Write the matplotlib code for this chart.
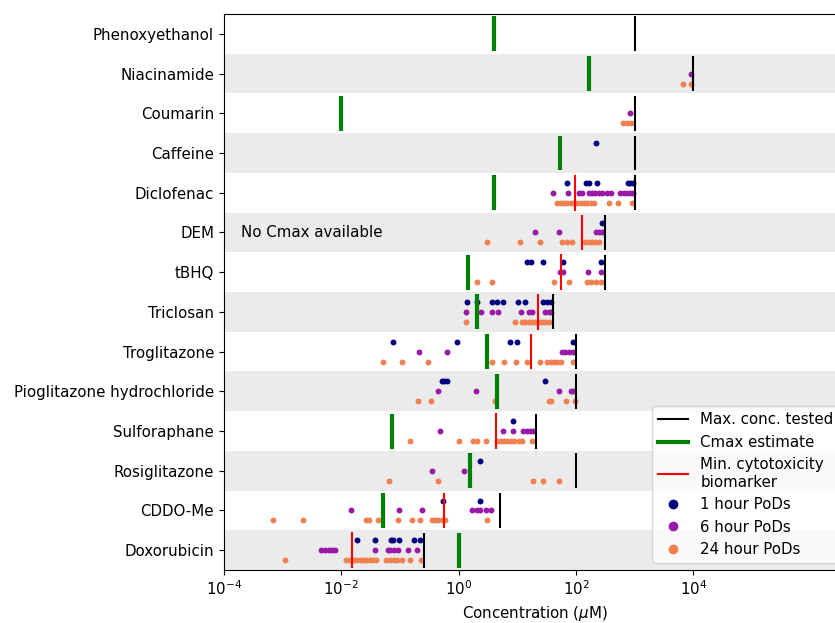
import numpy as np
import matplotlib
matplotlib.use('Agg')
import matplotlib.pyplot as plt
from matplotlib.lines import Line2D

plt.rcParams['font.size'] = 10.8

# compounds, top to bottom
compounds = ['Phenoxyethanol', 'Niacinamide', 'Coumarin', 'Caffeine', 'Diclofenac',
             'DEM', 'tBHQ', 'Triclosan', 'Troglitazone', 'Pioglitazone hydrochloride',
             'Sulforaphane', 'Rosiglitazone', 'CDDO-Me', 'Doxorubicin']

# all values are log10(concentration in uM)
max_conc = [3.0, 4.0, 3.0, 3.0, 3.0, 2.49, 2.49, 1.61, 2.0, 2.0, 1.32, 2.0, 0.70, -0.59]
cmax = [0.61, 2.23, -2.0, 1.73, 0.61, None, 0.16, 0.32, 0.49, 0.66, -1.14, 0.19, -1.29, 0.0]
min_cyto = [None, None, None, None, 1.98, 2.11, 1.74, 1.36, 1.24, None, 0.64, None, -0.24, -1.82]

pod_1h = [
    [],
    [],
    [],
    [2.35],
    [1.84, 2.18, 2.22, 2.36, 2.89, 2.93, 2.97],
    [2.44],
    [1.17, 1.24, 1.44, 1.78, 2.42],
    [0.15, 0.32, 0.57, 0.65, 0.76, 1.02, 1.14, 1.44, 1.50, 1.57],
    [-1.11, -0.03, 0.87, 1.0, 1.95],
    [-0.28, -0.24, -0.19, 1.48],
    [0.93],
    [0.36],
    [-0.26, 0.37],
    [-1.73, -1.43, -1.15, -1.12, -1.02, -0.76, -0.66],
]
pod_6h = [
    [],
    [3.96],
    [2.92],
    [],
    [1.61, 1.87, 2.06, 2.11, 2.22, 2.28, 2.33, 2.39, 2.45, 2.53, 2.60, 2.76, 2.82, 2.87, 2.93, 2.98],
    [1.31, 1.72, 2.35, 2.39, 2.44],
    [1.73, 1.78, 2.21, 2.42],
    [0.12, 0.39, 0.57, 0.67, 1.07, 1.20, 1.26, 1.48, 1.54, 1.58],
    [-0.68, -0.19, 1.77, 1.82, 1.88, 1.95],
    [-0.35, 0.30, 1.72, 1.91, 1.95],
    [-0.32, 0.76, 0.92, 1.10, 1.16, 1.21, 1.27],
    [-0.45, 0.10],
    [-1.83, -1.02, -0.63, 0.23, 0.31, 0.37, 0.46, 0.55],
    [-2.35, -2.28, -2.21, -2.15, -2.10, -1.43, -1.21, -1.16, -1.10, -1.03, -0.86, -0.70],
]
pod_24h = [
    [],
    [3.82, 3.96],
    [2.81, 2.87, 2.94],
    [],
    [1.68, 1.74, 1.79, 1.85, 1.91, 1.96, 2.02, 2.08, 2.13, 2.19, 2.25, 2.31, 2.56, 2.71, 2.96],
    [0.49, 1.04, 1.39, 1.77, 1.85, 1.94, 2.16, 2.22, 2.28, 2.33, 2.39],
    [0.32, 0.57, 1.62, 1.88, 2.19, 2.25, 2.35, 2.42],
    [0.12, 0.97, 1.09, 1.14, 1.20, 1.26, 1.31, 1.37, 1.43, 1.48, 1.54],
    [-1.29, -0.96, -0.52, 0.57, 0.77, 0.98, 1.17, 1.38, 1.50, 1.57, 1.62, 1.68, 1.74, 1.95],
    [-0.69, -0.47, 0.63, 1.54, 1.58, 1.83, 1.98],
    [-0.82, 0.0, 0.24, 0.32, 0.46, 0.66, 0.72, 0.77, 0.83, 0.89, 0.94, 1.03, 1.09, 1.26],
    [-1.19, -0.35, 1.27, 1.44, 1.71],
    [-3.16, -2.65, -1.57, -1.52, -1.37, -1.03, -0.79, -0.65, -0.46, -0.40, -0.35, -0.29, -0.23, 0.49],
    [-2.95, -1.91, -1.85, -1.79, -1.74, -1.68, -1.62, -1.57, -1.51, -1.45, -1.40, -1.23, -1.16,
     -1.10, -1.04, -0.96, -0.82, -0.64],
]

c1, c6, c24 = '#00007f', '#9b19a8', '#f0804f'

fig = plt.figure(figsize=(8.35, 6.23), dpi=100)
ax = fig.add_axes([0.268, 0.085, 0.745, 0.8925])

for i, name in enumerate(compounds):
    if i % 2 == 1:
        ax.axhspan(i - 0.5, i + 0.5, color='#ebebeb', zorder=0, lw=0)
    for vals, off, col in [(pod_1h[i], -0.25, c1), (pod_6h[i], 0.0, c6), (pod_24h[i], 0.25, c24)]:
        if vals:
            ax.scatter(10 ** np.array(vals), np.full(len(vals), i + off), s=18, color=col, zorder=3, lw=0)
    ax.vlines(10 ** max_conc[i], i - 0.44, i + 0.44, color='k', lw=1.5, zorder=4)
    if cmax[i] is not None:
        ax.vlines(10 ** cmax[i], i - 0.44, i + 0.44, color='green', lw=3, zorder=4)
    if min_cyto[i] is not None:
        ax.vlines(10 ** min_cyto[i], i - 0.45, i + 0.45, color='red', lw=1.5, zorder=4)

ax.text(2e-4, 5, 'No Cmax available', va='center', ha='left')

ax.set_xscale('log')
ax.set_xlim(1e-4, 10 ** 6.6)
ax.set_ylim(13.5, -0.5)
ax.set_yticks(range(len(compounds)))
ax.set_yticklabels(compounds)
ax.set_xticks([1e-4, 1e-2, 1e0, 1e2, 1e4])
ax.minorticks_off()
ax.set_xlabel(r'Concentration ($\mu$M)')

handles = [Line2D([], [], color='k', lw=1.5, label='Max. conc. tested'),
           Line2D([], [], color='green', lw=3, label='Cmax estimate'),
           Line2D([], [], color='red', lw=1.5, label='Min. cytotoxicity\nbiomarker'),
           Line2D([], [], ls='', marker='o', color=c1, markersize=6, label='1 hour PoDs'),
           Line2D([], [], ls='', marker='o', color=c6, markersize=6, label='6 hour PoDs'),
           Line2D([], [], ls='', marker='o', color=c24, markersize=6, label='24 hour PoDs')]
fig.legend(handles=handles, loc='lower left', bbox_to_anchor=(0.781, 0.096),
           borderaxespad=0, labelspacing=0.5)

fig.savefig('out.png', dpi=100)
